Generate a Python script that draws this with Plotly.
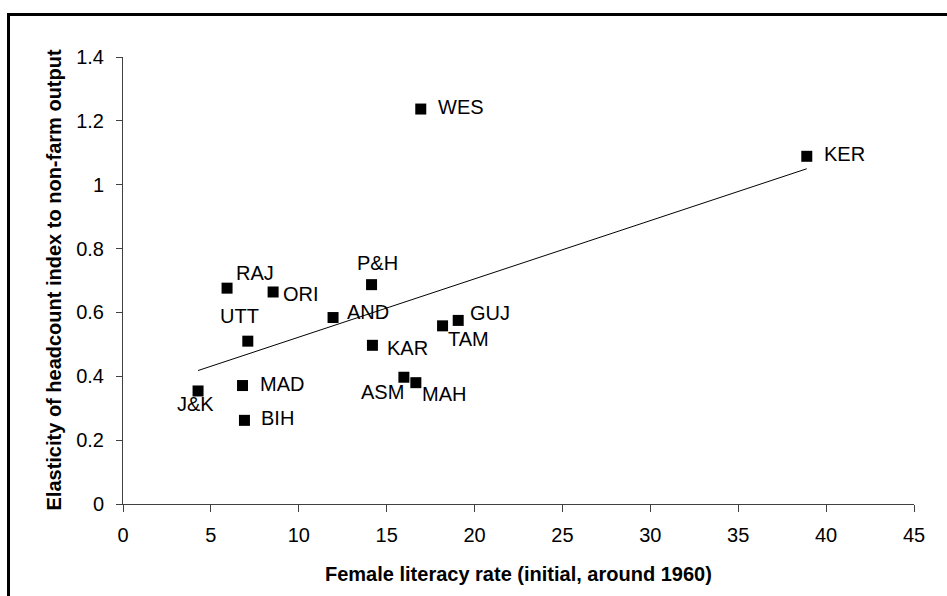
import plotly.graph_objects as go

# ---- data ----
states = ["WES", "KER", "RAJ", "ORI", "P&H", "AND", "UTT", "GUJ", "TAM",
          "KAR", "ASM", "MAH", "MAD", "J&K", "BIH"]
female_literacy = [16.94, 38.90, 5.92, 8.54, 14.14, 11.95, 7.10, 19.07, 18.18,
                   14.19, 15.98, 16.66, 6.80, 4.27, 6.91]
elasticity = [1.237, 1.089, 0.676, 0.664, 0.687, 0.584, 0.510, 0.575, 0.558,
              0.497, 0.397, 0.380, 0.371, 0.354, 0.262]
trend_x = [4.27, 38.90]
trend_y = [0.418, 1.050]

x_ticks = [0, 5, 10, 15, 20, 25, 30, 35, 40, 45]
y_ticks = [0, 0.2, 0.4, 0.6, 0.8, 1, 1.2, 1.4]
y_tick_text = ["0", "0.2", "0.4", "0.6", "0.8", "1", "1.2", "1.4"]

x_title = "Female literacy rate (initial, around 1960)"
y_title = "Elasticity of headcount index to non-farm output"

# ---- label placement (style: anchor, pixel shifts) ----
label_style = {
    "WES": ("left", 15, 2), "KER": ("left", 15, 2), "RAJ": ("center", 28, 15),
    "ORI": ("left", 7.5, -2), "P&H": ("center", 6, 22), "AND": ("left", 11.5, 6),
    "UTT": ("center", -8, 25.5), "GUJ": ("left", 10, 7), "TAM": ("center", 26, -13),
    "KAR": ("left", 13, -3), "ASM": ("center", -21, -14.5), "MAH": ("left", 4.5, -11.5),
    "MAD": ("left", 15, 1.5), "J&K": ("center", -2.5, -13), "BIH": ("left", 15, 2),
}

FONT = "Liberation Sans, Arial, sans-serif"
W, H = 947, 596
ML, MR, MT, MB = 123, 33, 57, 92
PW, PH = W - ML - MR, H - MT - MB

fig = go.Figure()
fig.add_trace(go.Scatter(x=trend_x, y=trend_y, mode="lines",
                         line=dict(color="black", width=1), hoverinfo="skip",
                         showlegend=False))
fig.add_trace(go.Scatter(x=female_literacy, y=elasticity, mode="markers",
                         marker=dict(symbol="square", size=11, color="black",
                                     line=dict(width=0)),
                         text=states, showlegend=False))

annotations = []
for s, xv, yv in zip(states, female_literacy, elasticity):
    anc, dx, dy = label_style[s]
    annotations.append(dict(x=xv, y=yv, xref="x", yref="y", text=s,
                            showarrow=False, xanchor=anc, yanchor="middle",
                            xshift=dx, yshift=dy,
                            font=dict(family=FONT, size=20, color="black")))

# axis titles
annotations.append(dict(x=0.5, y=(504 - 574) / PH, xref="paper", yref="paper",
                        text="<b>" + x_title + "</b>", showarrow=False,
                        xanchor="center", yanchor="middle",
                        font=dict(family=FONT, size=20, color="black")))
annotations.append(dict(x=(53 - ML) / PW, y=0.5, xref="paper", yref="paper",
                        text="<b>" + y_title + "</b>", showarrow=False,
                        textangle=-90, xanchor="center", yanchor="middle",
                        font=dict(family=FONT, size=20, color="black")))

# outer border (top and left visible, rest cropped)
bx = (8.5 - ML) / PW
by = (H - MB - 14.5) / PH
shapes = [dict(type="rect", xref="paper", yref="paper",
               x0=bx, x1=1.2, y0=-0.4, y1=by,
               line=dict(color="black", width=3), layer="above")]

fig.update_layout(
    width=W, height=H,
    margin=dict(l=ML, r=MR, t=MT, b=MB),
    paper_bgcolor="white", plot_bgcolor="white",
    font=dict(family=FONT, size=20, color="black"),
    annotations=annotations, shapes=shapes,
    xaxis=dict(range=[0, 45], tickvals=x_ticks, ticks="outside", ticklen=7,
               tickcolor="#404040", showline=True, linecolor="#404040",
               linewidth=1, showgrid=False, zeroline=False,
               tickfont=dict(family=FONT, size=20, color="black"),
               ticklabelstandoff=6),
    yaxis=dict(range=[0, 1.4], tickvals=y_ticks, ticktext=y_tick_text,
               ticks="outside", ticklen=6, tickcolor="#404040", showline=True,
               linecolor="#404040", linewidth=1, showgrid=False, zeroline=False,
               tickfont=dict(family=FONT, size=20, color="black"),
               ticklabelstandoff=8),
)

fig.write_html("out.html")
